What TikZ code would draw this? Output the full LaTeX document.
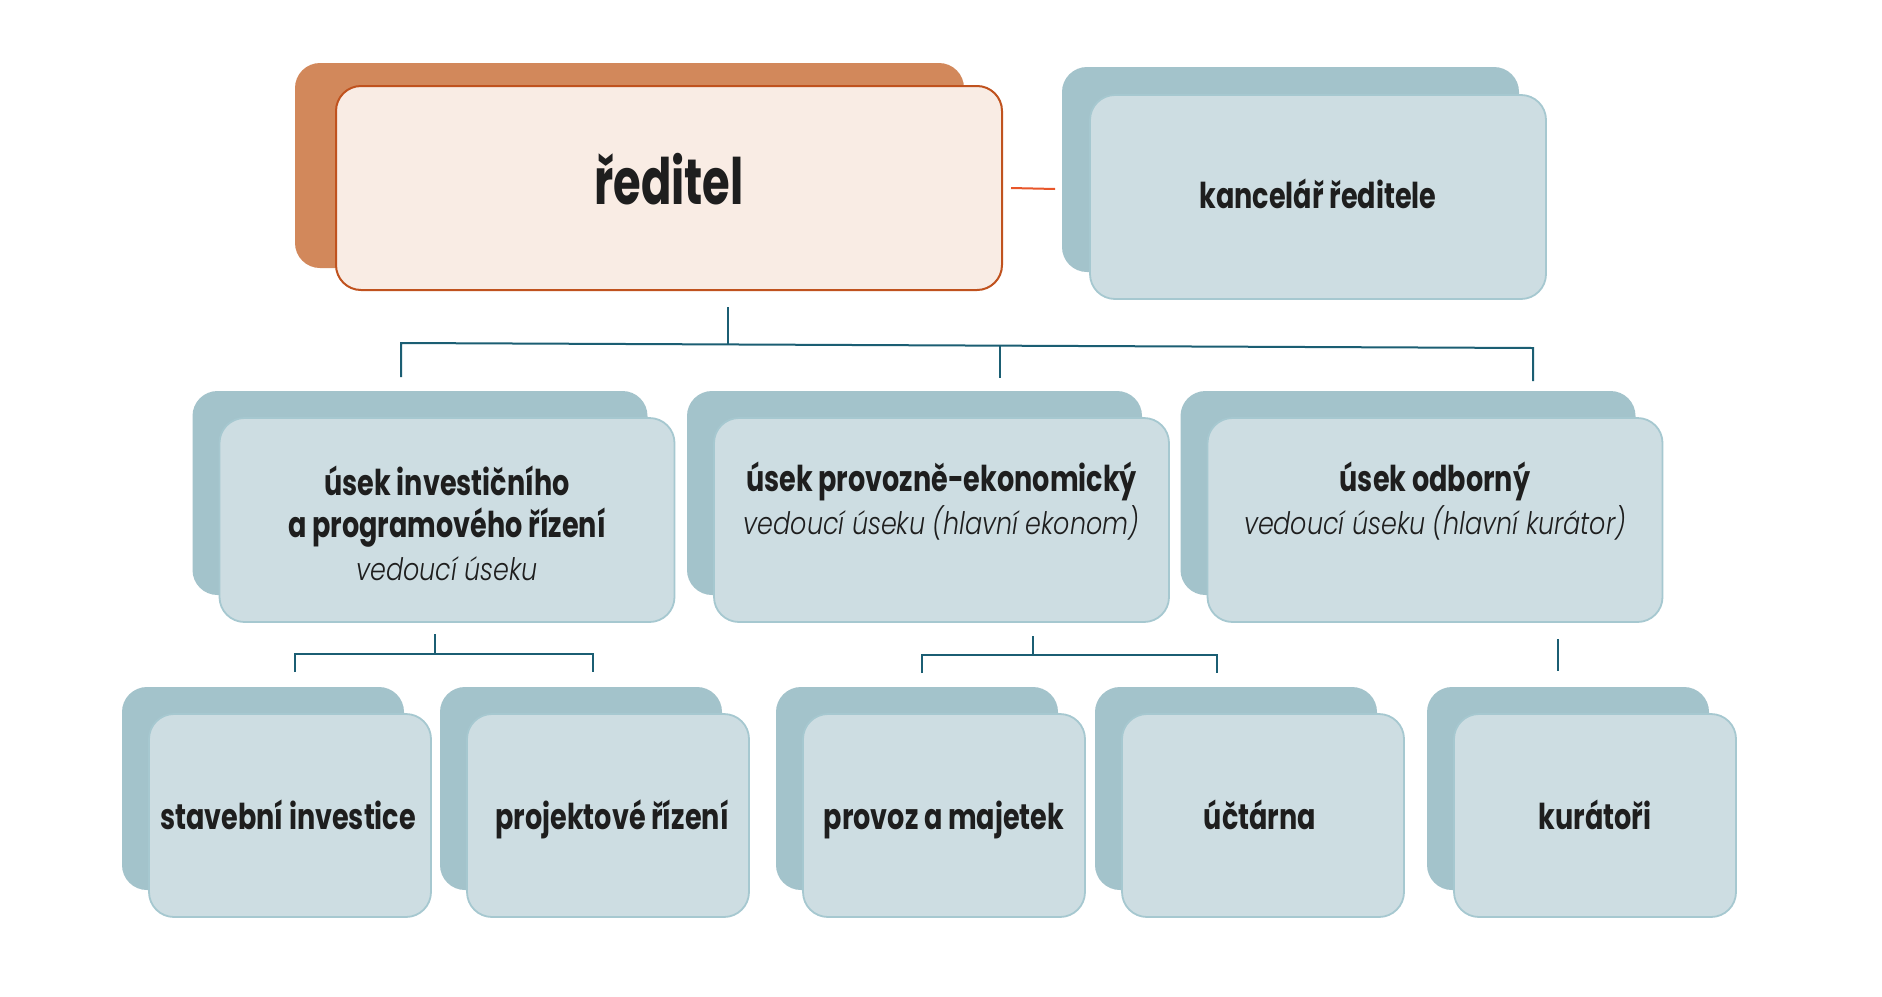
\documentclass[tikz,border=0pt]{standalone}
\usepackage{fontspec}
\newfontfamily\bdfont{Poppins}[FakeStretch=0.76]
\newfontfamily\dirfont{Poppins}[FakeStretch=0.70]
\newfontfamily\itfont{Poppins Light}[FakeStretch=0.82]
\definecolor{backblue}{HTML}{A3C3CB}
\definecolor{frontblue}{HTML}{CDDDE2}
\definecolor{frontedge}{HTML}{A6C8D0}
\definecolor{orangeback}{HTML}{D2885B}
\definecolor{orangefill}{HTML}{F9ECE4}
\definecolor{orangeedge}{HTML}{C0521E}
\definecolor{orangeline}{HTML}{E8562A}
\definecolor{teal}{HTML}{1B5E73}
\definecolor{ink}{HTML}{1E1E1E}
\begin{document}
\begin{tikzpicture}[x=0.5pt,y=-0.5pt,
  box/.style={rectangle, inner sep=0pt, rounded corners=12.5pt},
  backbox/.style={box, fill=backblue, draw=none},
  frontbox/.style={box, fill=frontblue, draw=frontedge, line width=0.9pt},
  dirback/.style={box, fill=orangeback, draw=none},
  dirfront/.style={box, fill=orangefill, draw=orangeedge, line width=1pt},
  midsz/.style={minimum width=227.5pt, minimum height=102pt},
  botsz/.style={minimum width=141pt, minimum height=101.5pt},
  title/.style={anchor=base, inner sep=0pt, text=ink, font=\bdfont\bfseries\fontsize{17.8}{20}\selectfont},
  sub/.style={anchor=base, inner sep=0pt, text=ink, font=\itfont\itshape\fontsize{15.5}{18}\selectfont},
  conn/.style={draw=teal, line width=1pt},
]
\useasboundingbox (0,0) rectangle (1882,996);
\fill[white] (0,0) rectangle (1882,996);

% ---- top row
\node[dirback, minimum width=334.5pt, minimum height=102.5pt] (rb) at (629.5,165.5) {};
\node[dirfront, minimum width=333pt, minimum height=102pt] (rf) at (669,188) {};
\node[anchor=base, inner sep=0pt, text=ink, font=\dirfont\bfseries\fontsize{32}{36}\selectfont] (rt) at (669,204) {ředitel};

\node[backbox, minimum width=228.5pt, minimum height=102.5pt] (kb) at (1290.5,169.5) {};
\node[frontbox, minimum width=228pt, minimum height=102pt] (kf) at (1318,197) {};
\node[title] (kt) at (1318,208) {kancelář ředitele};

% ---- middle row
\node[backbox, midsz] (m1b) at (420,493) {};
\node[frontbox, midsz] (m1f) at (447,520) {};
\node[title] (m1t1) at (447,495) {úsek investičního};
\node[title] (m1t2) at (447,537) {a programového řízení};
\node[sub] (m1s) at (447,580) {vedoucí úseku};

\node[backbox, midsz] (m2b) at (914.5,493) {};
\node[frontbox, midsz] (m2f) at (941.5,520) {};
\node[title] (m2t) at (941.5,491) {úsek provozně-ekonomický};
\node[sub] (m2s) at (941.5,534) {vedoucí úseku (hlavní ekonom)};

\node[backbox, midsz] (m3b) at (1408,493) {};
\node[frontbox, midsz] (m3f) at (1435,520) {};
\node[title] (m3t) at (1435,491) {úsek odborný};
\node[sub] (m3s) at (1435,534) {vedoucí úseku (hlavní kurátor)};

% ---- bottom row
\node[backbox, botsz] (b1b) at (263,788.5) {};
\node[frontbox, botsz] (b1f) at (290,815.5) {};
\node[title] (b1t) at (288,829) {stavební investice};

\node[backbox, botsz] (b2b) at (581,788.5) {};
\node[frontbox, botsz] (b2f) at (608,815.5) {};
\node[title] (b2t) at (612,829) {projektové řízení};

\node[backbox, botsz] (b3b) at (917,788.5) {};
\node[frontbox, botsz] (b3f) at (944,815.5) {};
\node[title] (b3t) at (944,829) {provoz a majetek};

\node[backbox, botsz] (b4b) at (1236,788.5) {};
\node[frontbox, botsz] (b4f) at (1263,815.5) {};
\node[title] (b4t) at (1260,829) {účtárna};

\node[backbox, botsz] (b5b) at (1568,788.5) {};
\node[frontbox, botsz] (b5f) at (1595,815.5) {};
\node[title] (b5t) at (1595,829) {kurátoři};

% ---- connectors
\coordinate (ro1) at (1011,188);
\coordinate (ro2) at (1055,189);
\draw[draw=orangeline, line width=1pt] (ro1) -- (ro2);

\coordinate (t0) at (728,307);
\coordinate (t0j) at (728,344.8);
\coordinate (tl) at (401,343);
\coordinate (tr) at (1533,348);
\coordinate (tm) at (1000,345.8);
\coordinate (tle) at (401,377);
\coordinate (tme) at (1000,378);
\coordinate (tre) at (1533,381);
\draw[conn] (t0) -- (t0j);
\draw[conn] (tle) -- (tl) -- (tr) -- (tre);
\draw[conn] (tm) -- (tme);

\coordinate (a0) at (435,634);
\coordinate (a0j) at (435,654);
\coordinate (al) at (295,654);
\coordinate (ar) at (593,654);
\coordinate (ale) at (295,672);
\coordinate (are) at (593,672);
\draw[conn] (a0) -- (a0j);
\draw[conn] (ale) -- (al) -- (ar) -- (are);

\coordinate (c0) at (1033,636);
\coordinate (c0j) at (1033,655);
\coordinate (cl) at (922,655);
\coordinate (cr) at (1217,655);
\coordinate (cle) at (922,673);
\coordinate (cre) at (1217,673);
\draw[conn] (c0) -- (c0j);
\draw[conn] (cle) -- (cl) -- (cr) -- (cre);

\coordinate (d0) at (1558,639);
\coordinate (d1) at (1558,671);
\draw[conn] (d0) -- (d1);
\end{tikzpicture}
\end{document}
